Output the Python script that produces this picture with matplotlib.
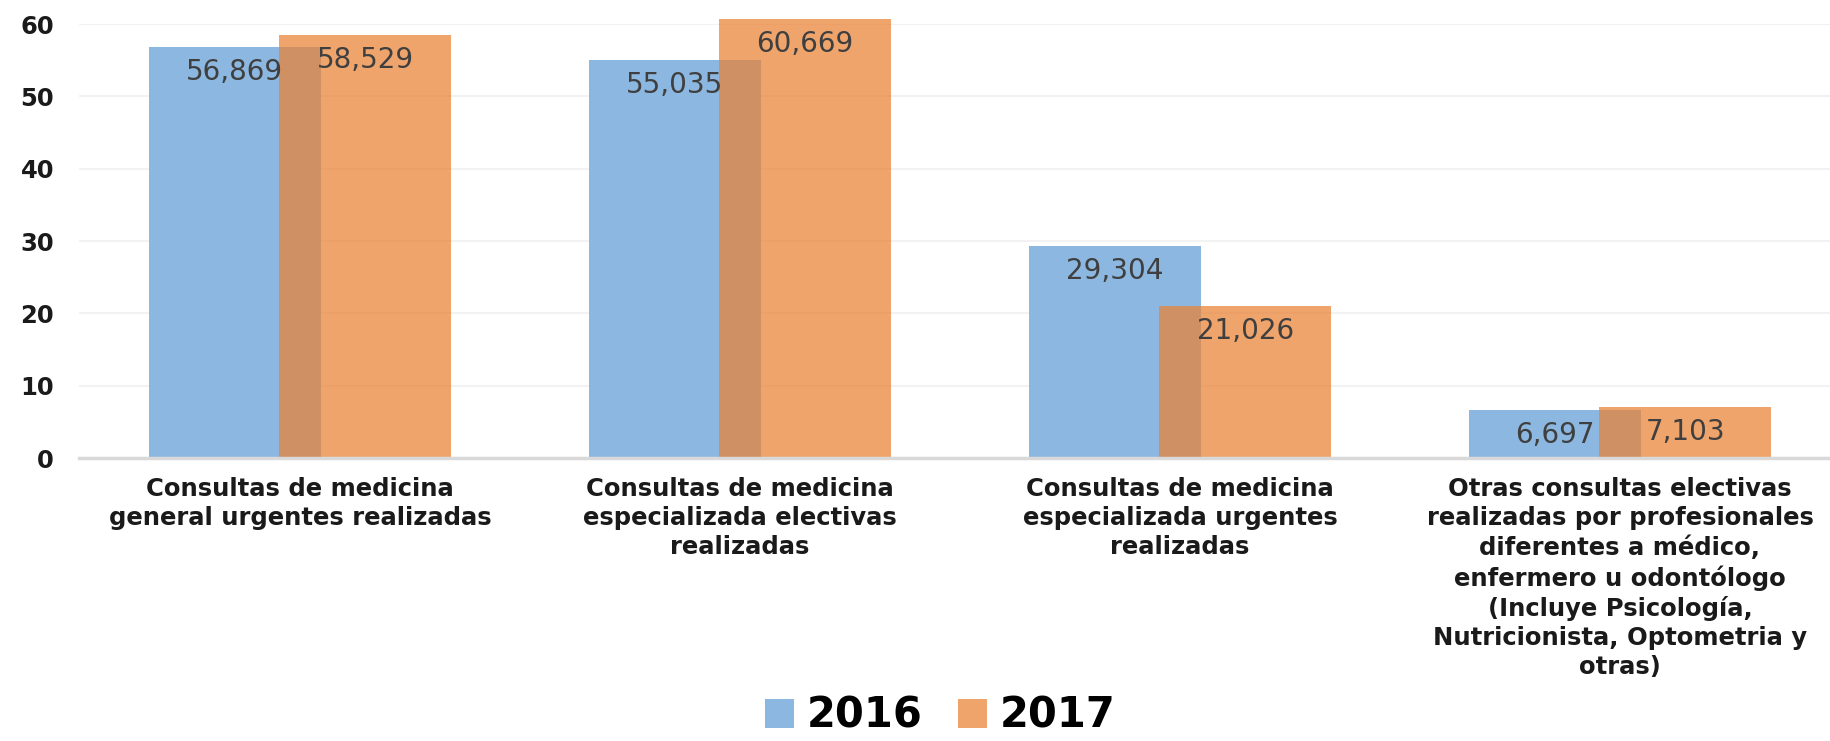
import matplotlib
matplotlib.use("Agg")
import matplotlib.pyplot as plt
from matplotlib.patches import Patch

categories = [
    "Consultas de medicina\ngeneral urgentes realizadas",
    "Consultas de medicina\nespecializada electivas\nrealizadas",
    "Consultas de medicina\nespecializada urgentes\nrealizadas",
    "Otras consultas electivas\nrealizadas por profesionales\ndiferentes a médico,\nenfermero u odontólogo\n(Incluye Psicología,\nNutricionista, Optometria y\notras)",
]
series_names = ["2016", "2017"]
values_2016 = [56.869, 55.035, 29.304, 6.697]
values_2017 = [58.529, 60.669, 21.026, 7.103]
labels_2016 = ["56,869", "55,035", "29,304", "6,697"]
labels_2017 = ["58,529", "60,669", "21,026", "7,103"]
yticks = [0, 10, 20, 30, 40, 50, 60]

W, H = 1830, 741
fig = plt.figure(figsize=(W / 100, H / 100), dpi=100)
ax = fig.add_axes([79 / W, (H - 458) / H, 1 - 79 / W, 434 / H])

blue = "#8cb7e0"
orange = (234 / 255, 129 / 255, 51 / 255, 0.72)

x = list(range(len(categories)))
off = 0.148
bw = 0.39
xb = [i - off for i in x]
xo = [i + off for i in x]
bars_b = ax.bar(xb, values_2016, width=bw, color=blue, zorder=3, clip_on=False)
bars_o = ax.bar(xo, values_2017, width=bw, color=orange, zorder=4, clip_on=False)

lab_color = "#3f3f3f"
for bars, labs in ((bars_b, labels_2016), (bars_o, labels_2017)):
    for b, t in zip(bars, labs):
        ax.annotate(t, (b.get_x() + b.get_width() / 2, b.get_height()), xytext=(0, -8),
                    textcoords="offset points", ha="center", va="top", fontsize=20,
                    color=lab_color, zorder=6, annotation_clip=False)

ax.set_xlim(-0.5023, 3.4773)
ax.set_ylim(0, 60)
ax.set_yticks(yticks)
ax.set_yticklabels([str(v) for v in yticks], fontsize=17.5, fontweight="bold", color="#1a1a1a")
ax.set_xticks(x)
ax.set_xticklabels(categories, fontsize=17.5, fontweight="bold", color="#1a1a1a")
for lbl in ax.get_xticklabels():
    lbl.set_linespacing(1.26)
ax.tick_params(axis="both", length=0)
ax.tick_params(axis="y", pad=18)
ax.tick_params(axis="x", pad=14)

for s in ["top", "right", "left"]:
    ax.spines[s].set_visible(False)
ax.spines["bottom"].set_color("#d9d9d9")
ax.spines["bottom"].set_linewidth(2.5)
ax.spines["bottom"].set_zorder(5)
ax.grid(axis="y", color="#f2f2f2", linewidth=1.5, zorder=0)
ax.set_axisbelow(True)

handles = [Patch(facecolor=blue), Patch(facecolor=orange)]
fig.legend(handles, series_names, loc="center", bbox_to_anchor=(940 / W, 25 / H),
           ncol=2, frameon=False, prop={"size": 30, "weight": "bold"},
           handlelength=0.7, handleheight=0.7, handletextpad=0.3, columnspacing=0.85,
           borderpad=0.0)

fig.savefig("out.png", dpi=100)
